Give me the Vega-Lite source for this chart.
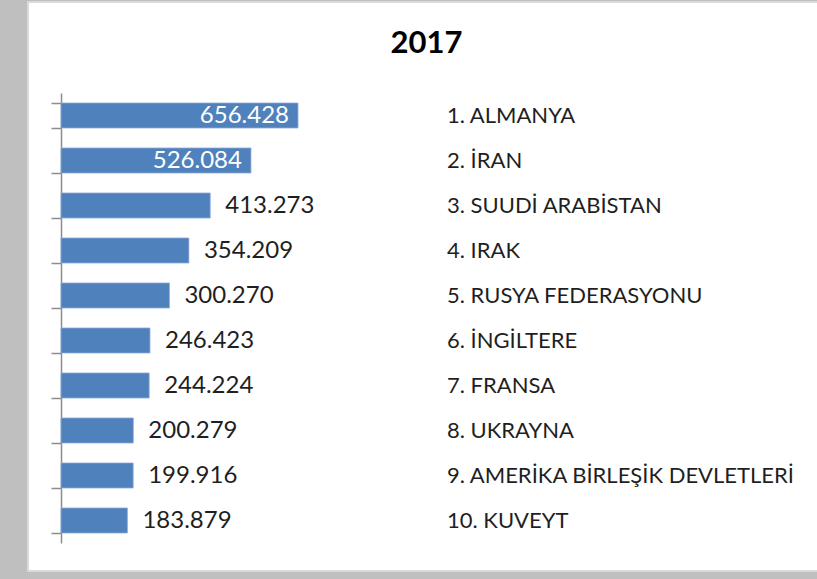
{
  "$schema": "https://vega.github.io/schema/vega-lite/v6.json",
  "autosize": "none",
  "width": 791,
  "height": 569,
  "padding": {"left": 28, "top": 2, "right": 0, "bottom": 8},
  "background": "#bfbfbf",
  "title": {
    "text": "2017",
    "font": "Lato",
    "fontSize": 31,
    "fontWeight": "bold",
    "color": "#000000",
    "anchor": "middle",
    "baseline": "alphabetic",
    "dx": 3,
    "offset": -82
  },
  "data": {
    "values": [
      {"name": "1. ALMANYA", "value": 656428},
      {"name": "2. İRAN", "value": 526084},
      {"name": "3. SUUDİ ARABİSTAN", "value": 413273},
      {"name": "4. IRAK", "value": 354209},
      {"name": "5. RUSYA FEDERASYONU", "value": 300270},
      {"name": "6. İNGİLTERE", "value": 246423},
      {"name": "7. FRANSA", "value": 244224},
      {"name": "8. UKRAYNA", "value": 200279},
      {"name": "9. AMERİKA BİRLEŞİK DEVLETLERİ", "value": 199916},
      {"name": "10. KUVEYT", "value": 183879}
    ]
  },
  "encoding": {
    "y": {
      "field": "name",
      "type": "nominal",
      "sort": null,
      "scale": {"range": [91, 541], "paddingInner": 0.444, "paddingOuter": 0.222},
      "axis": {
        "title": null,
        "labels": false,
        "offset": -33,
        "tickBand": "extent",
        "tickSize": 10,
        "tickColor": "#8c8c8c",
        "domainColor": "#8c8c8c",
        "domainWidth": 1.5,
        "tickWidth": 1.5,
        "grid": false
      }
    }
  },
  "layer": [
    {
      "mark": {"type": "bar", "color": "#4f81bd", "stroke": "#8eaadb", "strokeWidth": 0.8},
      "encoding": {
        "x": {
          "field": "value",
          "type": "quantitative",
          "scale": {"domain": [-91400, 2099433], "nice": false, "zero": false},
          "axis": null
        },
        "x2": {"datum": 0}
      }
    },
    {
      "transform": [{"filter": "datum.value > 500000"}],
      "mark": {"type": "text", "align": "right", "baseline": "middle", "dx": -9, "font": "Lato", "fontSize": 24, "color": "#ffffff"},
      "encoding": {
        "x": {"field": "value", "type": "quantitative"},
        "text": {"field": "value", "type": "quantitative", "format": ",d"}
      }
    },
    {
      "transform": [{"filter": "datum.value <= 500000"}],
      "mark": {"type": "text", "align": "left", "baseline": "middle", "dx": 15, "font": "Lato", "fontSize": 24, "color": "#1f1f1f"},
      "encoding": {
        "x": {"field": "value", "type": "quantitative"},
        "text": {"field": "value", "type": "quantitative", "format": ",d"}
      }
    },
    {
      "mark": {"type": "text", "align": "left", "baseline": "middle", "font": "Lato", "fontSize": 22, "color": "#1f1f1f"},
      "encoding": {
        "x": {"datum": 1069104},
        "text": {"field": "name", "type": "nominal"}
      }
    }
  ],
  "config": {
    "locale": {"number": {"decimal": ",", "thousands": ".", "grouping": [3], "currency": ["", " ₺"]}},
    "view": {"fill": "#ffffff", "stroke": "#dadada", "strokeWidth": 2}
  }
}
